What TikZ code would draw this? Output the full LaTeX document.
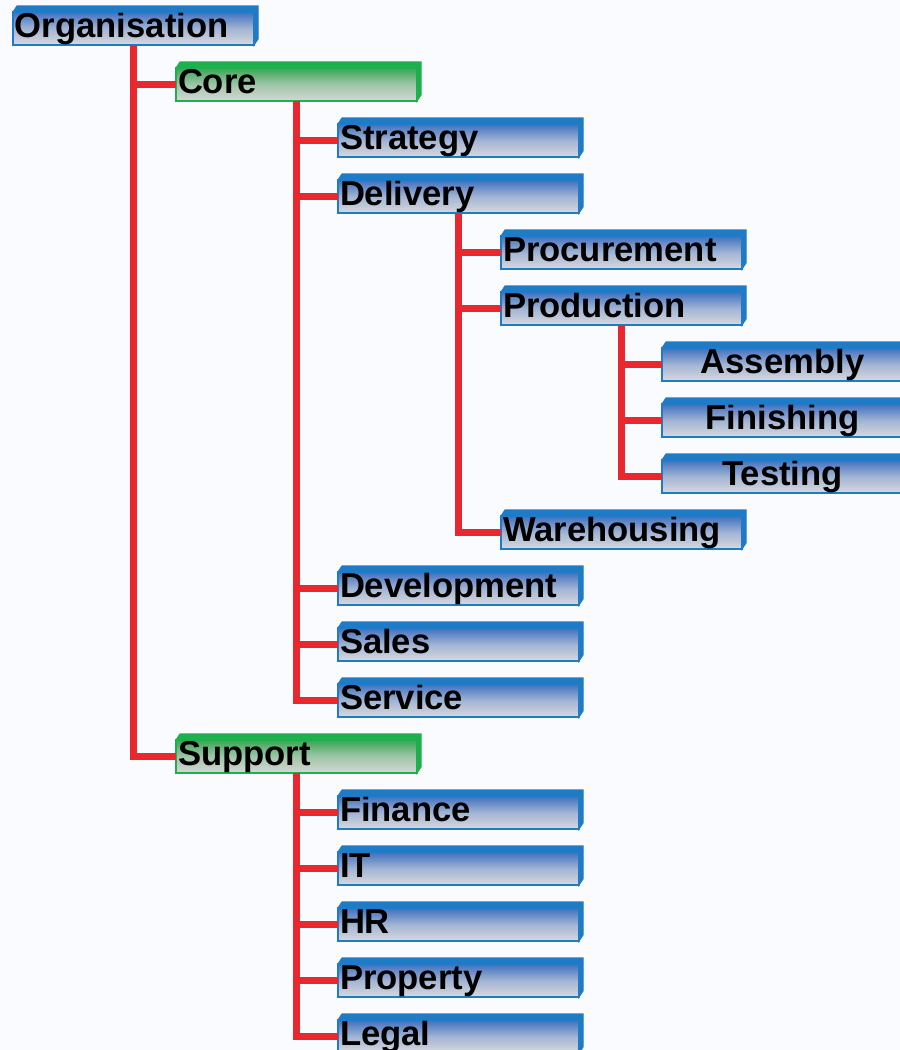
\documentclass[tikz,border=0pt]{standalone}
\usepackage{fontspec}
\setmainfont{Liberation Sans}
\usepackage{tikz}
\usetikzlibrary{positioning}

\definecolor{bgcol}{HTML}{FAFBFF}
\definecolor{unitedge}{HTML}{1F7BC6}
\definecolor{unittop}{HTML}{3F70BF}
\definecolor{unitbot}{HTML}{D8D9DE}
\definecolor{groupedge}{HTML}{1DB04C}
\definecolor{grouptop}{HTML}{3AA655}
\definecolor{groupbot}{HTML}{D6D7D6}
\definecolor{linkred}{HTML}{E8272E}

\begin{document}
\begin{tikzpicture}[
	font=\fontsize{19.7}{22}\selectfont\bfseries,
	box/.style={rectangle,anchor=west,outer sep=0pt,inner ysep=0pt,inner xsep=0.04cm,
		minimum height=0.66cm,text width=4.74cm,text height=0.37cm,text depth=0pt,
		align=left,line width=1.1pt,shading=axis},
	unit/.style={box,draw=unitedge,top color=unittop,bottom color=unitbot,middle color=unitbot!65!unittop},
	group/.style={box,draw=groupedge,top color=grouptop,bottom color=groupbot,middle color=groupbot!65!grouptop},
	leaf/.style={unit,align=center},
	link/.style={draw=linkred,line width=3.7pt,line join=miter}]

\useasboundingbox (0,0) rectangle (18,-21);
\fill[bgcol] (0,0) rectangle (18,-21);
\clip (0,0) rectangle (18,-21);

% boxes, one row each
\node[unit]  (org)   at (0.26,-0.57)  {Organisation};
\node[group] (core)  at (3.52,-1.69)  {Core};
\node[unit]  (strat) at (6.76,-2.81)  {Strategy};
\node[unit]  (deliv) at (6.76,-3.93)  {Delivery};
\node[unit]  (proc)  at (10.02,-5.05) {Procurement};
\node[unit]  (prod)  at (10.02,-6.17) {Production};
\node[leaf]  (assy)  at (13.24,-7.29) {Assembly};
\node[leaf]  (fin)   at (13.24,-8.41) {Finishing};
\node[leaf]  (test)  at (13.24,-9.53) {Testing};
\node[unit]  (ware)  at (10.02,-10.65) {Warehousing};
\node[unit]  (dev)   at (6.76,-11.77) {Development};
\node[unit]  (sales) at (6.76,-12.89) {Sales};
\node[unit]  (serv)  at (6.76,-14.01) {Service};
\node[group] (supp)  at (3.52,-15.13) {Support};
\node[unit]  (finc)  at (6.76,-16.25) {Finance};
\node[unit]  (it)    at (6.76,-17.37) {IT};
\node[unit]  (hr)    at (6.76,-18.49) {HR};
\node[unit]  (prop)  at (6.76,-19.61) {Property};
\node[unit]  (legal) at (6.76,-20.73) {Legal};

% top and side faces
\foreach \n in {org,strat,deliv,proc,prod,assy,fin,test,ware,dev,sales,serv,finc,it,hr,prop,legal}
	\filldraw[unitedge,line width=0.6pt] (\n.north west) -- ++(0.08,0.12)
		-- ([shift={(0.08,0.12)}]\n.north east) -- ([shift={(0.08,0.12)}]\n.south east)
		-- (\n.south east) -- (\n.north east) -- cycle;
\foreach \n in {core,supp}
	\filldraw[groupedge,line width=0.6pt] (\n.north west) -- ++(0.08,0.12)
		-- ([shift={(0.08,0.12)}]\n.north east) -- ([shift={(0.08,0.12)}]\n.south east)
		-- (\n.south east) -- (\n.north east) -- cycle;

% connectors
\foreach \c in {core,supp} \draw[link] (org.south) |- (\c.west);
\foreach \c in {strat,deliv,dev,sales,serv} \draw[link] (core.south) |- (\c.west);
\foreach \c in {proc,prod,ware} \draw[link] (deliv.south) |- (\c.west);
\foreach \c in {assy,fin,test} \draw[link] (prod.south) |- (\c.west);
\foreach \c in {finc,it,hr,prop,legal} \draw[link] (supp.south) |- (\c.west);

\end{tikzpicture}
\end{document}
